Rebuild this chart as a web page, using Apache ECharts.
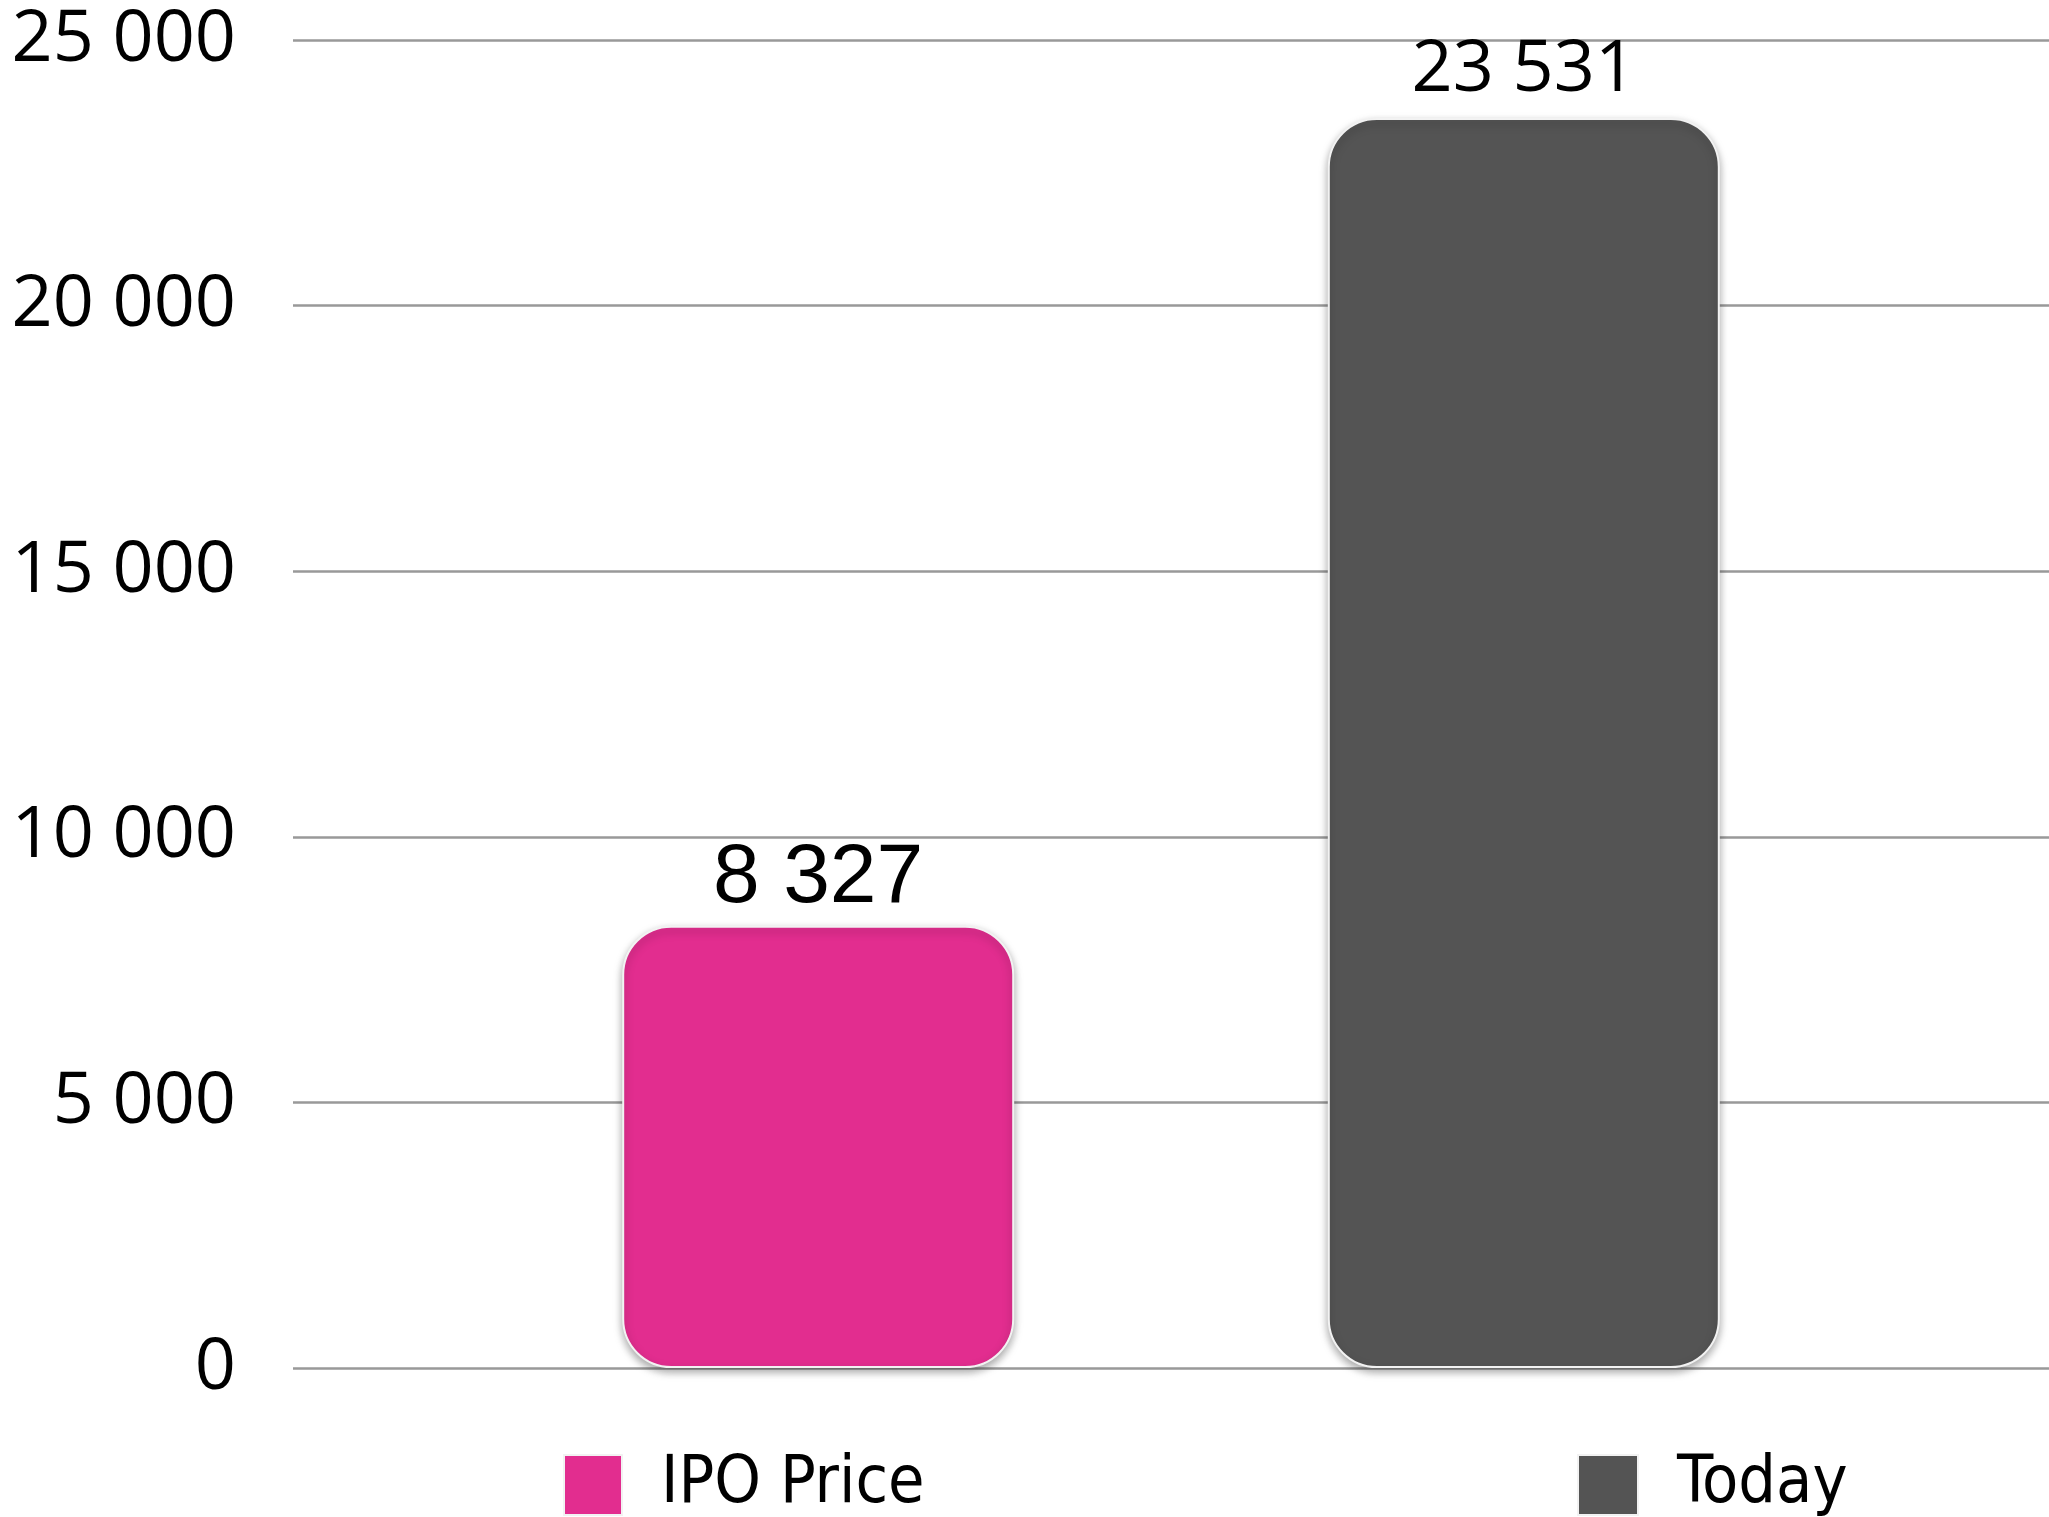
<!DOCTYPE html>
<html lang="en">
<head>
    <meta charset="UTF-8">
    <title>IPO Price vs Today</title>
    <style>
        html,body{
            height: 100%;
        }
        body{
            margin: 0;
            padding: 0;
            background: #fff;
        }
        #chart_main{
            width: 2049px;
            height: 1517px;
        }
    </style>
</head>
<body>
    <div id="chart_main"></div>
<script src="https://cdn.jsdelivr.net/npm/echarts@6/dist/echarts.min.js"></script>
<script>
    var categories = [''];
    var seriesNames = ['IPO Price', 'Today'];
    var ipoValues = [8327];
    var todayValues = [23531];
    var seriesColors = ['#e22d8f', '#545454'];

    function spaced(v) {
        return String(v).replace(/\B(?=(\d{3})+(?!\d))/g, ' ');
    }

    var barStyle = function (c) {
        return {
            color: c,
            borderRadius: 48,
            borderColor: '#f2f2f2',
            borderWidth: 2,
            shadowColor: 'rgba(0,0,0,0.35)',
            shadowBlur: 8,
            shadowOffsetY: 4
        };
    };

    var legendText = {
        fontFamily: 'Liberation Sans Narrow, DejaVu Sans Condensed, Liberation Sans',
        fontSize: 66,
        color: '#000',
        padding: [4, 0, 0, 34]
    };

    var myChart = echarts.init(document.getElementById('chart_main'));

    myChart.setOption({
        animation: false,
        grid: {
            left: 293,
            right: 0,
            top: 40,
            bottom: 149
        },
        legend: [{
            data: [seriesNames[0]],
            left: 563,
            top: 1452,
            padding: 0,
            itemWidth: 58,
            itemHeight: 60,
            itemGap: 0,
            icon: 'rect',
            textStyle: legendText
        }, {
            data: [seriesNames[1]],
            left: 1577,
            top: 1452,
            padding: 0,
            itemWidth: 60,
            itemHeight: 60,
            itemGap: 0,
            icon: 'rect',
            textStyle: legendText
        }],
        xAxis: {
            type: 'category',
            data: categories,
            axisLine: { show: false },
            axisTick: { show: false },
            axisLabel: { show: false }
        },
        yAxis: {
            type: 'value',
            min: 0,
            max: 25000,
            interval: 5000,
            axisLine: { show: false },
            axisTick: { show: false },
            axisLabel: {
                margin: 57,
                fontFamily: 'Open Sans',
                fontSize: 72,
                color: '#000',
                formatter: spaced
            },
            splitLine: {
                lineStyle: { color: '#999', width: 2.5 }
            }
        },
        series: [{
            name: seriesNames[0],
            type: 'bar',
            data: ipoValues,
            barWidth: 392,
            barGap: '80%',
            itemStyle: barStyle(seriesColors[0]),
            label: {
                show: true,
                position: 'top',
                distance: 5,
                fontFamily: 'Liberation Sans',
                fontSize: 84,
                color: '#000',
                formatter: function (p) { return spaced(p.value); }
            }
        }, {
            name: seriesNames[1],
            type: 'bar',
            data: todayValues,
            barWidth: 392,
            itemStyle: barStyle(seriesColors[1]),
            label: {
                show: true,
                position: 'top',
                distance: 12,
                fontFamily: 'Open Sans',
                fontSize: 72,
                color: '#000',
                formatter: function (p) { return spaced(p.value); }
            }
        }]
    });
</script>
</body>
</html>
